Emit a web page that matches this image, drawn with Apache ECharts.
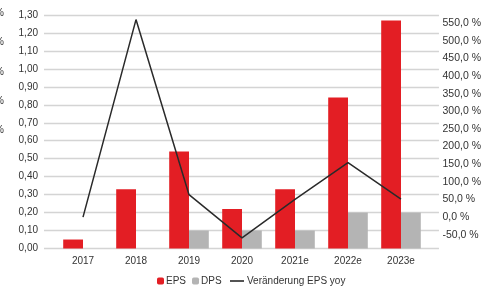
<!DOCTYPE html>
<html>
<head>
<meta charset="utf-8">
<script src="https://cdn.jsdelivr.net/npm/echarts@6/dist/echarts.min.js"></script>
<style>
  html, body { margin: 0; padding: 0; background: #fff; }
  #chart { width: 484px; height: 287px; }
</style>
</head>
<body>
<div id="chart"></div>
<script>
var years = ['2017', '2018', '2019', '2020', '2021e', '2022e', '2023e']
var eps = [0.05, 0.33, 0.54, 0.22, 0.33, 0.84, 1.27]
var dps = [0, 0, 0.10, 0.10, 0.10, 0.20, 0.20]
var epsYoy = [0, 560, 63.6, -59, 50, 154.5, 51]
var rightTicks = [-50, 0, 50, 100, 150, 200, 250, 300, 350, 400, 450, 500, 550]
var cutTicks = [13, 42.5, 72, 101, 130] // "%" von abgeschnittener Achse links

var font = 'Liberation Sans, Arial, sans-serif'
var txt = '#333'

var chart = echarts.init(document.getElementById('chart'))

chart.setOption({
  animation: false,
  textStyle: { fontFamily: font },
  grid: [
    { left: 44, right: 44, top: 15, bottom: 38.5 },
    { left: 56.5, right: 56.5, top: 15, bottom: 38.5 }
  ],
  xAxis: [
    { gridIndex: 0, type: 'category', data: years, show: false },
    {
      gridIndex: 1,
      type: 'category',
      data: years,
      axisLine: { show: false },
      axisTick: { show: false },
      axisLabel: { color: txt, fontSize: 10, margin: 8, fontFamily: font }
    }
  ],
  yAxis: [
    {
      gridIndex: 0,
      type: 'value',
      min: 0,
      max: 1.3,
      interval: 0.1,
      axisLine: { show: false },
      axisTick: { show: false },
      axisLabel: {
        color: txt, fontSize: 10, margin: 6, fontFamily: font,
        formatter: function (v) { return v.toFixed(2).replace('.', ',') }
      },
      splitLine: { lineStyle: { color: '#d4d4d4', width: 1.3 } }
    },
    {
      gridIndex: 0,
      type: 'value',
      position: 'right',
      min: -89,
      max: 573,
      axisLine: { show: false },
      axisTick: { show: false },
      splitLine: { show: false },
      axisLabel: {
        color: txt, fontSize: 10.5, margin: 3.5, fontFamily: font,
        customValues: rightTicks,
        formatter: function (v) { return v.toFixed(1).replace('.', ',') + ' %' }
      }
    },
    { gridIndex: 1, type: 'value', min: 0, max: 1.3, show: false },
    { gridIndex: 1, type: 'value', min: -89, max: 573, show: false }
  ],
  legend: [
    {
      data: ['EPS', 'DPS'],
      left: 152,
      top: 271,
      itemWidth: 7,
      itemHeight: 7,
      itemGap: 6,
      textStyle: { color: txt, fontSize: 10, fontFamily: font, padding: [0, 0, 0, -3] }
    },
    {
      data: ['Veränderung EPS yoy'],
      left: 225,
      top: 271,
      icon: 'rect',
      itemWidth: 14,
      itemHeight: 1.6,
      textStyle: { color: txt, fontSize: 10, fontFamily: font, padding: [0, 0, 0, -2] }
    }
  ],
  graphic: cutTicks.map(function (y) {
    return {
      type: 'text',
      x: -5,
      y: y,
      style: { text: '%', fill: txt, font: '10px ' + font, verticalAlign: 'middle' }
    }
  }),
  series: [
    {
      name: 'EPS',
      type: 'bar',
      xAxisIndex: 1,
      yAxisIndex: 2,
      data: eps,
      barWidth: 19.8,
      barGap: '0%',
      itemStyle: { color: '#e31e24' }
    },
    {
      name: 'DPS',
      type: 'bar',
      xAxisIndex: 1,
      yAxisIndex: 2,
      data: dps,
      barWidth: 19.8,
      barGap: '0%',
      itemStyle: { color: '#b4b4b4' }
    },
    {
      name: 'Veränderung EPS yoy',
      type: 'line',
      xAxisIndex: 1,
      yAxisIndex: 3,
      data: epsYoy,
      symbol: 'none',
      lineStyle: { color: '#2a2a2a', width: 1.5 },
      itemStyle: { color: '#2a2a2a' }
    }
  ]
})
</script>
</body>
</html>
